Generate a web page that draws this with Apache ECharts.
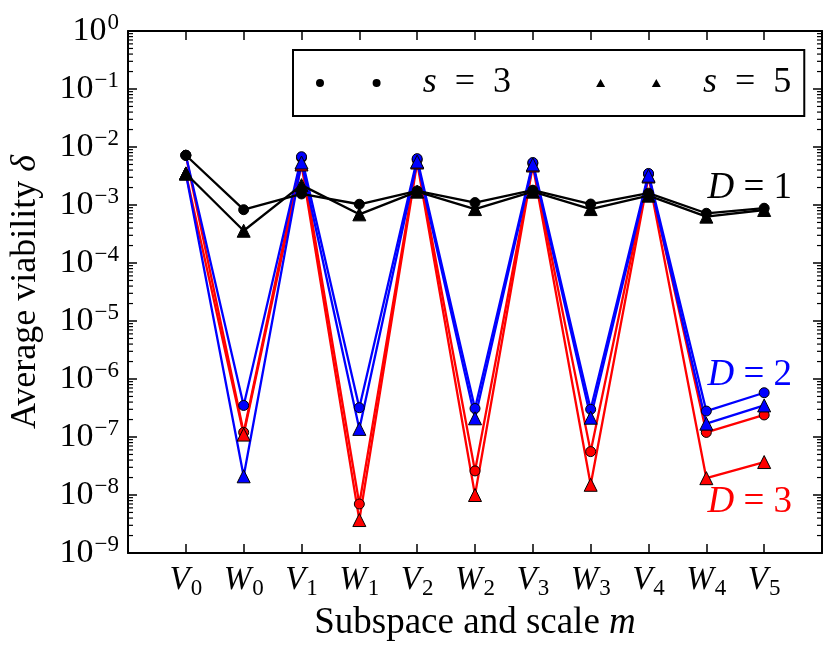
<!DOCTYPE html>
<html><head><meta charset="utf-8">
<script src="https://cdn.jsdelivr.net/npm/echarts@6/dist/echarts.min.js"></script>
<style>html,body{margin:0;padding:0;background:#fff}#c{width:840px;height:650px}</style>
</head><body><div id="c"></div>
<script>
// Categories (subspace / scale), letter_subscript
const categories = ['V_0','W_0','V_1','W_1','V_2','W_2','V_3','W_3','V_4','W_4','V_5'];

// D = 1 (black)
const d1_s3 = [7.2e-3, 8.3e-4, 1.55e-3, 1.03e-3, 1.75e-3, 1.1e-3, 1.8e-3, 1.04e-3, 1.6e-3, 7.2e-4, 8.8e-4];
const d1_s5 = [3.5e-3, 3.6e-4, 2.2e-3, 6.9e-4, 1.7e-3, 8.5e-4, 1.7e-3, 8.5e-4, 1.45e-3, 6.3e-4, 8.2e-4];
// D = 2 (blue)
const d2_s3 = [7.2e-3, 3.5e-7, 6.8e-3, 3.2e-7, 6.3e-3, 3.1e-7, 5.4e-3, 3.0e-7, 3.5e-3, 2.8e-7, 5.8e-7];
const d2_s5 = [3.5e-3, 2.1e-8, 5.4e-3, 1.38e-7, 5.6e-3, 2.1e-7, 5.0e-3, 2.15e-7, 3.2e-3, 1.7e-7, 3.5e-7];
// D = 3 (red)
const d3_s3 = [7.2e-3, 1.2e-7, 6.5e-3, 7.0e-9, 6.0e-3, 2.6e-8, 5.2e-3, 5.6e-8, 3.4e-3, 1.2e-7, 2.4e-7];
const d3_s5 = [3.5e-3, 1.1e-7, 5.0e-3, 3.7e-9, 5.4e-3, 1.0e-8, 4.8e-3, 1.5e-8, 3.1e-3, 1.95e-8, 3.7e-8];

const legendNames = ['s = 3', 's = 5'];
const dLabels = ['D = 1', 'D = 2', 'D = 3'];
// annotation anchor (data coords) for the D labels
const dLabelX = 9.75;
const dLabelY = [1.96e-3, 1.17e-6, 7.6e-9];

// log-axis minor tick positions (2..9 x 10^e), axis decoration only
const minorTickValues = [];
for (let e = -9; e < 0; e++) {
  for (let k = 2; k <= 9; k++) minorTickValues.push(k * Math.pow(10, e));
}

const FONT = '"Liberation Serif", "DejaVu Serif", serif';
const BLUE = '#0000ff', RED = '#ff0000', BLACK = '#000000';

const chart = echarts.init(document.getElementById('c'), null, { renderer: 'canvas' });

function pairs(arr) { return arr.map((v, i) => [i, v]); }

function italicFirst(txt, sp) {
  const parts = txt.split(' ');
  const s = sp || ' ';
  return '{i|' + parts[0] + '}{t|' + s + parts.slice(1).join(s) + '}';
}

function mk(name, data, color, symbol, size, ann) {
  const s = {
    name: name, type: 'line', data: pairs(data),
    symbol: symbol, symbolSize: size, showAllSymbol: true,
    lineStyle: { color: color, width: 2.3 },
    itemStyle: { color: color, borderColor: '#000', borderWidth: 1 },
    emphasis: { disabled: true }, animation: false, silent: true
  };
  if (ann) {
    s.markPoint = {
      symbol: 'circle', symbolSize: 0, silent: true, animation: false,
      data: [{ coord: [dLabelX, ann.y], value: 0 }],
      label: {
        show: true, position: 'inside', formatter: italicFirst(ann.text), color: color,
        rich: {
          i: { fontFamily: FONT, fontStyle: 'italic', fontSize: 37, color: color },
          t: { fontFamily: FONT, fontSize: 37, color: color }
        }
      }
    };
  }
  return s;
}

const yAxisBase = {
  type: 'log', logBase: 10, min: 1e-9, max: 1, splitNumber: 9,
  axisLine: { show: true, onZero: false, lineStyle: { color: '#000', width: 2 } },
  axisTick: { show: true, inside: true, length: 9, lineStyle: { color: '#000', width: 1.5 } },
  splitLine: { show: false }
};

const option = {
  animation: false,
  backgroundColor: '#fff',
  textStyle: { fontFamily: FONT },
  grid: { left: 127, right: 18, top: 31, bottom: 97, containLabel: false },
  xAxis: [{
    type: 'value', min: -1, max: 11, interval: 1, position: 'bottom',
    axisLine: { show: true, onZero: false, lineStyle: { color: '#000', width: 2 } },
    axisTick: { show: true, inside: true, length: 9, lineStyle: { color: '#000', width: 1.5 } },
    splitLine: { show: false },
    axisLabel: {
      margin: 8, color: '#000', fontFamily: FONT,
      formatter: function (v) {
        if (v < 0 || v > 10) return '';
        const c = categories[v].split('_');
        return '{l|' + c[0] + '}{s|' + c[1] + '}';
      },
      rich: {
        l: { fontFamily: FONT, fontStyle: 'italic', fontSize: 33, color: '#000' },
        s: { fontFamily: FONT, fontSize: 23, color: '#000', padding: [16, 0, 0, 1] }
      }
    },
    name: '{t|Subspace and scale }{i|m}', nameLocation: 'middle', nameGap: 44,
    nameTextStyle: {
      fontFamily: FONT,
      rich: {
        t: { fontFamily: FONT, fontSize: 37, color: '#000' },
        i: { fontFamily: FONT, fontStyle: 'italic', fontSize: 37, color: '#000' }
      }
    }
  }, {
    type: 'value', min: -1, max: 11, interval: 1, position: 'top',
    axisLine: { show: true, onZero: false, lineStyle: { color: '#000', width: 2 } },
    axisTick: { show: true, inside: true, length: 9, lineStyle: { color: '#000', width: 1.5 } },
    axisLabel: { show: false }, splitLine: { show: false }
  }],
  yAxis: [Object.assign({}, yAxisBase, {
    position: 'left',
    axisLabel: {
      margin: 9, color: '#000', fontFamily: FONT,
      formatter: function (v) {
        const e = Math.round(Math.log10(v));
        return '{b|10}{e|' + (e === 0 ? '0' : '\u2212' + (-e)) + '}';
      },
      rich: {
        b: { fontFamily: FONT, fontSize: 34, color: '#000' },
        e: { fontFamily: FONT, fontSize: 23, color: '#000', padding: [0, 0, 16, 1] }
      }
    },
    name: '{t|Average viability }{i|\u03b4}', nameLocation: 'middle', nameGap: 84, nameRotate: 90,
    nameTextStyle: {
      fontFamily: FONT,
      rich: {
        t: { fontFamily: FONT, fontSize: 36, color: '#000' },
        i: { fontFamily: FONT, fontStyle: 'italic', fontSize: 36, color: '#000' }
      }
    }
  }), Object.assign({}, yAxisBase, {
    position: 'right', axisLabel: { show: false }
  })],
  legend: {
    data: [
      { name: legendNames[0], icon: 'path://M0,4a4,4 0 1,0 8,0a4,4 0 1,0 -8,0M56.6,4a4,4 0 1,0 8,0a4,4 0 1,0 -8,0' },
      { name: legendNames[1], icon: 'path://M4.5,0L9,8L0,8Z M60.2,0L64.7,8L55.7,8Z' }
    ],
    left: 293, top: 50, orient: 'horizontal', itemWidth: 65, itemHeight: 8, itemGap: 85,
    borderColor: '#000', borderWidth: 2, borderRadius: 0, padding: [15, 13, 15, 23],
    selectedMode: false,
    formatter: function (name) { return italicFirst(name, '\u2002'); },
    textStyle: {
      fontFamily: FONT,
      padding: [0, 0, 0, 37],
      rich: {
        i: { fontFamily: FONT, fontStyle: 'italic', fontSize: 36, color: '#000' },
        t: { fontFamily: FONT, fontSize: 36, color: '#000' }
      }
    }
  },
  series: [
    mk('D3 s3', d3_s3, RED, 'circle', 10, { y: dLabelY[2], text: dLabels[2] }),
    mk('D3 s5', d3_s5, RED, 'triangle', 13),
    mk('D2 s3', d2_s3, BLUE, 'circle', 10, { y: dLabelY[1], text: dLabels[1] }),
    mk('D2 s5', d2_s5, BLUE, 'triangle', 13),
    mk('D1 s3', d1_s3, BLACK, 'circle', 10, { y: dLabelY[0], text: dLabels[0] }),
    mk('D1 s5', d1_s5, BLACK, 'triangle', 13),
    { name: legendNames[0], type: 'line', data: [], symbol: 'circle', itemStyle: { color: '#000' }, lineStyle: { color: '#000' } },
    { name: legendNames[1], type: 'line', data: [], symbol: 'triangle', itemStyle: { color: '#000' }, lineStyle: { color: '#000' } },
    {
      name: 'minorTicks', type: 'custom', silent: true, clip: false, animation: false, z: 10,
      data: minorTickValues.map(v => [0, v]),
      encode: { x: 0, y: 1 },
      renderItem: function (params, api) {
        const y = api.coord([0, api.value(1)])[1];
        const cs = params.coordSys;
        const st = { stroke: '#000', lineWidth: 1.2 };
        return {
          type: 'group', children: [
            { type: 'line', shape: { x1: cs.x, y1: y, x2: cs.x + 5, y2: y }, style: st },
            { type: 'line', shape: { x1: cs.x + cs.width - 5, y1: y, x2: cs.x + cs.width, y2: y }, style: st }
          ]
        };
      }
    }
  ]
};
chart.setOption(option);
</script>
</body></html>
